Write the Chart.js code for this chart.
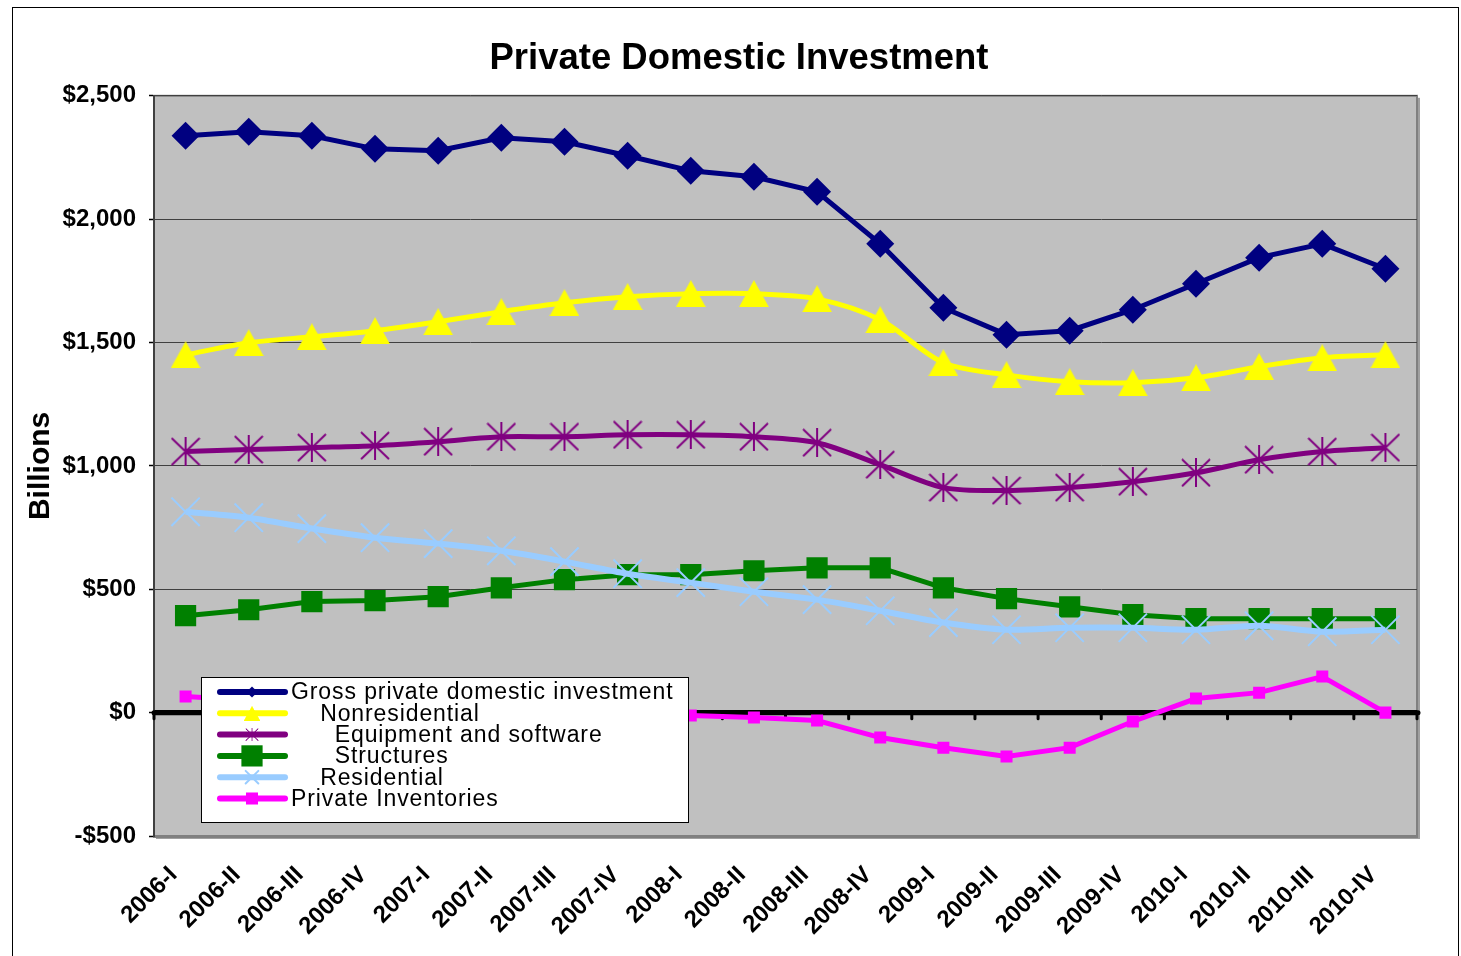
<!DOCTYPE html>
<html>
<head>
<meta charset="utf-8">
<script src="https://cdn.jsdelivr.net/npm/chart.js@4.4.0/dist/chart.umd.min.js"></script>
<style>
  html, body { margin: 0; padding: 0; background: #fff; }
  #wrap { width: 1461px; height: 956px; }
</style>
</head>
<body>
<div id="wrap"><canvas id="chartInversion"></canvas></div>
<script>
const categories = ['2006-I', '2006-II', '2006-III', '2006-IV', '2007-I', '2007-II', '2007-III', '2007-IV',
    '2008-I', '2008-II', '2008-III', '2008-IV', '2009-I', '2009-II', '2009-III', '2009-IV',
    '2010-I', '2010-II', '2010-III', '2010-IV'];

const gross = [2338, 2354, 2338, 2285, 2277, 2330, 2314, 2257, 2196, 2172, 2111, 1900,
    1641, 1532, 1548, 1633, 1738, 1844, 1900, 1799];
const nonresidential = [1450, 1499, 1523, 1548, 1584, 1625, 1661, 1686, 1698, 1698, 1677, 1592,
    1418, 1369, 1341, 1337, 1357, 1402, 1438, 1450];
const equipment = [1058, 1066, 1074, 1082, 1098, 1118, 1118, 1126, 1126, 1118, 1094, 1005,
    912, 900, 912, 936, 972, 1025, 1058, 1074];
const structures = [393, 417, 450, 454, 470, 506, 539, 559, 559, 575, 587, 587,
    506, 462, 429, 397, 381, 381, 381, 381];
const residential = [814, 790, 746, 709, 685, 656, 612, 563, 527, 490, 458, 413,
    365, 336, 344, 344, 336, 352, 328, 336];
const inventories = [65, 50, 55, 25, 5, 15, 30, -10, -12, -20, -32, -101,
    -142, -178, -142, -36, 57, 81, 146, 0];

const yTicks = [-500, 0, 500, 1000, 1500, 2000, 2500];

const fuente = '"Liberation Sans", Arial, sans-serif';
Chart.defaults.font.family = fuente;
Chart.defaults.color = '#000';

// marcadores propios (triangulo y asterisco como en Excel)
function triangulo(color, w, h) {
    const c = document.createElement('canvas');
    c.width = w; c.height = h;
    const g = c.getContext('2d');
    g.fillStyle = color;
    g.beginPath();
    g.moveTo(w / 2, 0);
    g.lineTo(w, h);
    g.lineTo(0, h);
    g.closePath();
    g.fill();
    return c;
}

function asterisco(color, w, h, lw) {
    const c = document.createElement('canvas');
    c.width = w; c.height = h;
    const g = c.getContext('2d');
    g.strokeStyle = color;
    g.lineWidth = lw;
    g.beginPath();
    g.moveTo(w / 2, 0); g.lineTo(w / 2, h);
    g.moveTo(1, 1); g.lineTo(w - 1, h - 1);
    g.moveTo(w - 1, 1); g.lineTo(1, h - 1);
    g.stroke();
    return c;
}

function serie(label, data, color, estilo, radio, extra) {
    return Object.assign({
        label: label,
        data: data,
        borderColor: color,
        backgroundColor: color,
        pointBackgroundColor: color,
        pointBorderColor: color,
        borderWidth: 5,
        pointStyle: estilo,
        pointRadius: radio,
        pointHoverRadius: radio,
        pointBorderWidth: 0,
        tension: 0,
        fill: false
    }, extra || {});
}

const datasets = [
    serie('Gross private domestic investment', gross, '#000080', 'rectRot', 14, {order: 6, legendScale: 0.4}),
    serie('    Nonresidential', nonresidential, '#FFFF00', triangulo('#FFFF00', 30, 27), 14, {order: 5, tension: 0.3, legendScale: 0.55}),
    serie('      Equipment and software', equipment, '#800080', asterisco('#800080', 30, 29, 2), 14, {order: 4, tension: 0.3, legendScale: 0.45}),
    serie('      Structures', structures, '#008000', 'rect', 15, {order: 3, legendScale: 1}),
    serie('    Residential', residential, '#99CCFF', 'crossRot', 20, {order: 2, tension: 0.3, pointBorderWidth: 2, borderWidth: 6, legendScale: 0.45}),
    serie('Private Inventories', inventories, '#FF00FF', 'rect', 8.5, {order: 1, legendScale: 1})
];

function marcador(ctx, ds, x, y, escala) {
    const st = ds.pointStyle;
    const r = ds.pointRadius * escala;
    ctx.save();
    ctx.fillStyle = ds.pointBackgroundColor;
    ctx.strokeStyle = ds.pointBorderColor;
    if (typeof st === 'object') {
        const w = st.width * escala, h = st.height * escala;
        ctx.drawImage(st, x - w / 2, y - h / 2, w, h);
    } else if (st === 'rectRot') {
        ctx.beginPath();
        ctx.moveTo(x, y - r); ctx.lineTo(x + r, y); ctx.lineTo(x, y + r); ctx.lineTo(x - r, y);
        ctx.closePath(); ctx.fill();
    } else if (st === 'rect') {
        const s = r * Math.SQRT1_2;
        ctx.fillRect(x - s, y - s, 2 * s, 2 * s);
    } else if (st === 'crossRot') {
        const s = r * Math.SQRT1_2;
        ctx.lineWidth = 2;
        ctx.beginPath();
        ctx.moveTo(x - s, y - s); ctx.lineTo(x + s, y + s);
        ctx.moveTo(x + s, y - s); ctx.lineTo(x - s, y + s);
        ctx.stroke();
    }
    ctx.restore();
}

const fondo = {
    id: 'fondo',
    beforeDraw(chart) {
        const {ctx, chartArea: a} = chart;
        ctx.save();
        ctx.fillStyle = '#fff';
        ctx.fillRect(0, 0, chart.width, chart.height);
        ctx.strokeStyle = '#000';
        ctx.lineWidth = 1;
        ctx.strokeRect(12.5, 7.5, 1446, 960);
        ctx.fillStyle = '#C0C0C0';
        ctx.fillRect(a.left, a.top, a.width, a.height);
        ctx.fillStyle = '#A0A0A0';
        ctx.fillRect(a.right, a.top + 2, 3, a.height + 1);
        ctx.fillRect(a.left + 2, a.bottom, a.width + 1, 3);
        ctx.strokeStyle = '#808080';
        ctx.lineWidth = 2;
        ctx.strokeRect(a.left, a.top, a.width, a.height);
        ctx.restore();
    },
    beforeDatasetsDraw(chart) {
        const {ctx, chartArea: a, scales: {x, y}} = chart;
        const y0 = y.getPixelForValue(0);
        ctx.save();
        ctx.strokeStyle = '#000';
        ctx.lineCap = 'round';
        ctx.lineWidth = 5;
        ctx.beginPath();
        ctx.moveTo(a.left, y0);
        ctx.lineTo(a.right + 1, y0);
        ctx.stroke();
        ctx.lineWidth = 3;
        for (let i = 0; i <= categories.length; i++) {
            const bx = x.getPixelForValue(i - 0.5);
            ctx.beginPath();
            ctx.moveTo(bx, y0);
            ctx.lineTo(bx, y0 + 6);
            ctx.stroke();
        }
        ctx.restore();
    },
    afterDatasetsDraw(chart) {
        const {ctx} = chart;
        const bx = 201, by = 677, bw = 487, bh = 145;
        ctx.save();
        ctx.fillStyle = '#fff';
        ctx.fillRect(bx, by, bw, bh);
        ctx.strokeStyle = '#000';
        ctx.lineWidth = 1;
        ctx.strokeRect(bx + 0.5, by + 0.5, bw, bh);
        chart.data.datasets.forEach((ds, i) => {
            const ry = 692 + i * 21.3;
            ctx.strokeStyle = ds.borderColor;
            ctx.lineWidth = 6;
            ctx.lineCap = 'round';
            ctx.beginPath();
            ctx.moveTo(220, ry);
            ctx.lineTo(285, ry);
            ctx.stroke();
            marcador(ctx, ds, 252, ry, ds.legendScale);
            ctx.fillStyle = '#000';
            ctx.font = '23px ' + fuente;
            ctx.letterSpacing = '0.9px';
            ctx.textBaseline = 'middle';
            ctx.textAlign = 'left';
            ctx.fillText(ds.label, 291, ry + 1);
        });
        ctx.restore();
    }
};

document.addEventListener('DOMContentLoaded', () => {
    const ctx = document.getElementById('chartInversion').getContext('2d');
    new Chart(ctx, {
        type: 'line',
        data: { labels: categories, datasets: datasets },
        options: {
            responsive: true,
            maintainAspectRatio: false,
            animation: false,
            layout: { padding: { left: 61, right: 44, top: 0, bottom: 0 } },
            plugins: {
                legend: { display: false },
                tooltip: { enabled: false },
                title: {
                    display: true,
                    text: 'Private Domestic Investment',
                    color: '#000',
                    font: { size: 36.5, weight: 'bold', lineHeight: 1.2 },
                    padding: { top: 37, bottom: 15 }
                }
            },
            scales: {
                x: {
                    offset: true,
                    grid: { display: true, drawOnChartArea: false, drawTicks: false },
                    border: { display: true, color: '#808080', width: 3 },
                    ticks: {
                        autoSkip: false,
                        maxRotation: 45,
                        minRotation: 45,
                        padding: 25,
                        labelOffset: -12,
                        color: '#000',
                        font: { size: 24, weight: 'bold' }
                    },
                    afterFit: s => { s.height = 120; }
                },
                y: {
                    min: -500,
                    max: 2500,
                    afterBuildTicks: s => { s.ticks = yTicks.map(v => ({ value: v })); },
                    grid: {
                        color: c => c.tick && c.tick.value === 0 ? '#000' : '#404040',
                        lineWidth: c => c.tick && c.tick.value === 0 ? 5 : 1,
                        tickColor: '#000',
                        tickWidth: 1.5,
                        tickLength: 5
                    },
                    border: { display: true, color: '#404040', width: 2 },
                    ticks: {
                        padding: 13,
                        color: '#000',
                        font: { size: 24, weight: 'bold' },
                        callback: v => (v < 0 ? '-$' : '$') + Math.abs(v).toLocaleString('en-US')
                    },
                    title: {
                        display: true,
                        text: 'Billions',
                        color: '#000',
                        font: { size: 30, weight: 'bold', lineHeight: 1.2 },
                        padding: { top: -38, bottom: 0 }
                    },
                    afterFit: s => { s.width = 93; }
                }
            }
        },
        plugins: [fondo]
    });
});
</script>
</body>
</html>
